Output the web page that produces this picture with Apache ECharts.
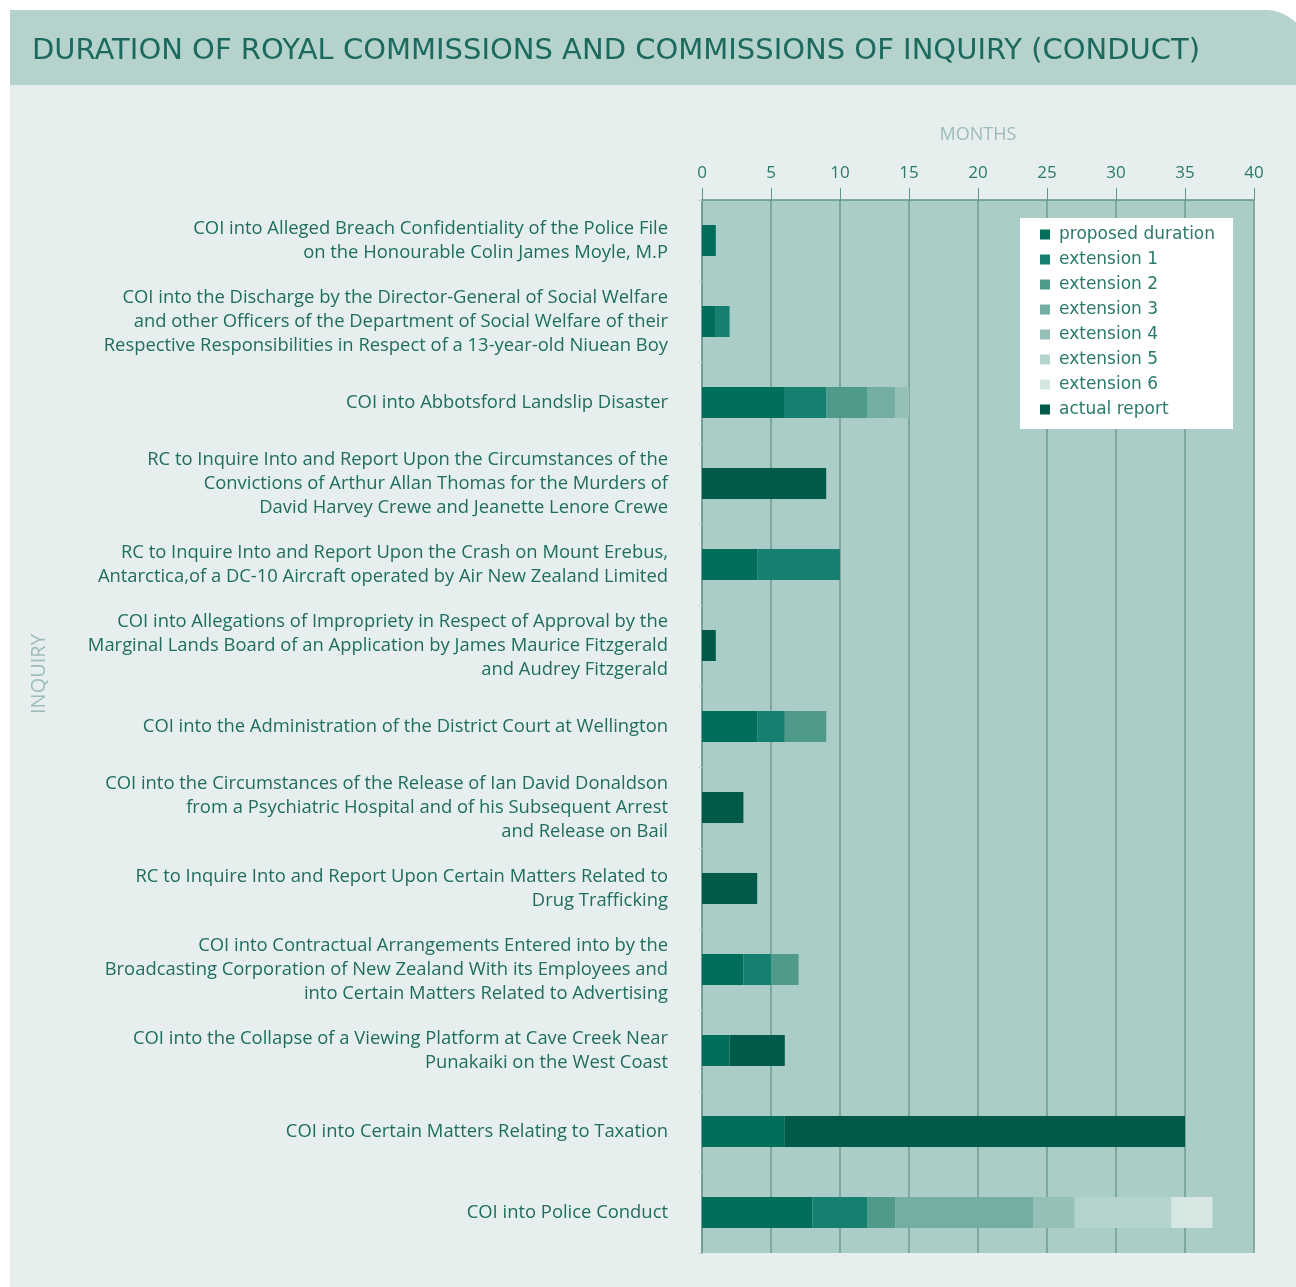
<!DOCTYPE html>
<html>
<head>
<meta charset="utf-8">
<script src="https://cdn.jsdelivr.net/npm/echarts@6/dist/echarts.min.js"></script>
<style>
html,body{margin:0;padding:0;background:#ffffff;}
#chart{width:1296px;height:1287px;}
</style>
</head>
<body>
<div id="chart"></div>
<script>
var titleText = 'DURATION OF ROYAL COMMISSIONS AND COMMISSIONS OF INQUIRY (CONDUCT)';
var yAxisTitle = 'INQUIRY';
var categories = [
  'COI into Alleged Breach Confidentiality of the Police File\non the Honourable Colin James Moyle, M.P',
  'COI into the Discharge by the Director-General of Social Welfare\nand other Officers of the Department of Social Welfare of their\nRespective Responsibilities in Respect of a 13-year-old Niuean Boy',
  'COI into Abbotsford Landslip Disaster',
  'RC to Inquire Into and Report Upon the Circumstances of the\nConvictions of Arthur Allan Thomas for the Murders of\nDavid Harvey Crewe and Jeanette Lenore Crewe',
  'RC to Inquire Into and Report Upon the Crash on Mount Erebus,\nAntarctica,of a DC-10 Aircraft operated by Air New Zealand Limited',
  'COI into Allegations of Impropriety in Respect of Approval by the\nMarginal Lands Board of an Application by James Maurice Fitzgerald\nand Audrey Fitzgerald',
  'COI into the Administration of the District Court at Wellington',
  'COI into the Circumstances of the Release of Ian David Donaldson\nfrom a Psychiatric Hospital and of his Subsequent Arrest\nand Release on Bail',
  'RC to Inquire Into and Report Upon Certain Matters Related to\nDrug Trafficking',
  'COI into Contractual Arrangements Entered into by the\nBroadcasting Corporation of New Zealand With its Employees and\ninto Certain Matters Related to Advertising',
  'COI into the Collapse of a Viewing Platform at Cave Creek Near\nPunakaiki on the West Coast',
  'COI into Certain Matters Relating to Taxation',
  'COI into Police Conduct'
];
var seriesNames = ['proposed duration','extension 1','extension 2','extension 3','extension 4','extension 5','extension 6','actual report'];
var proposed   = [1, 1, 6, 0, 4, 0, 4, 0, 0, 3, 2, 6, 8];
var extension1 = [0, 1, 3, 0, 6, 0, 2, 0, 0, 2, 0, 0, 4];
var extension2 = [0, 0, 3, 0, 0, 0, 3, 0, 0, 2, 0, 0, 2];
var extension3 = [0, 0, 2, 0, 0, 0, 0, 0, 0, 0, 0, 0, 10];
var extension4 = [0, 0, 1, 0, 0, 0, 0, 0, 0, 0, 0, 0, 3];
var extension5 = [0, 0, 0, 0, 0, 0, 0, 0, 0, 0, 0, 0, 7];
var extension6 = [0, 0, 0, 0, 0, 0, 0, 0, 0, 0, 0, 0, 3];
var actualReport = [0, 0, 0, 9, 0, 1, 0, 3, 4, 0, 4, 29, 0];
var xTicks = [0, 40, 5];
var colors = ['#006e5a','#168070','#4f9a8a','#74ada2','#94c0b8','#b6d4ce','#d6e7e3','#005a49'];

var dataSets = [proposed, extension1, extension2, extension3, extension4, extension5, extension6, actualReport];
var series = dataSets.map(function(d, i){
  return {
    name: seriesNames[i],
    type: 'bar',
    stack: 'total',
    barWidth: 31,
    itemStyle: {color: colors[i]},
    data: d.map(function(v){ return v === 0 ? '-' : v; })
  };
});

var chart = echarts.init(document.getElementById('chart'));
chart.setOption({
  animation: false,
  backgroundColor: '#ffffff',
  graphic: [
    {type: 'rect', z: -10, shape: {x: 10, y: 10, width: 1300, height: 1290, r: [0, 45, 0, 0]}, style: {fill: '#e6efed'}},
    {type: 'rect', z: -9, shape: {x: 10, y: 10, width: 1300, height: 75, r: [0, 45, 0, 0]}, style: {fill: '#b6d2cd'}},
    {type: 'text', z: 10, left: 32, top: 37, style: {text: titleText, fill: '#1b6a5d', font: '29px "DejaVu Sans"'}},
    {type: 'text', z: 10, x: 29, y: 714, rotation: Math.PI / 2, style: {text: yAxisTitle, fill: '#9dbcb6', font: '20px "Open Sans"'}}
  ],
  color: colors,
  legend: {
    orient: 'vertical',
    left: 1020,
    top: 218,
    backgroundColor: '#ffffff',
    padding: [8, 18, 11, 20],
    itemWidth: 10,
    itemHeight: 10,
    itemGap: 8,
    icon: 'rect',
    textStyle: {color: '#2a7a6b', fontSize: 17, fontFamily: '"DejaVu Sans"', padding: [0, 0, 0, 4]},
    data: seriesNames
  },
  grid: {
    left: 702, right: 42, top: 200, bottom: 34,
    show: true, backgroundColor: '#abcdc8', borderWidth: 0
  },
  xAxis: {
    type: 'value',
    position: 'top',
    min: xTicks[0], max: xTicks[1], interval: xTicks[2],
    name: 'MONTHS',
    nameLocation: 'middle',
    nameGap: 56,
    nameTextStyle: {color: '#9dbcb6', fontSize: 18, fontFamily: '"Open Sans"'},
    axisLine: {show: true, lineStyle: {color: '#5f958c', width: 1.5}},
    axisTick: {show: true, length: 12, lineStyle: {color: '#5f958c'}},
    axisLabel: {color: '#2a7a6b', fontSize: 17, margin: 18, fontFamily: '"Open Sans"'},
    splitLine: {show: true, lineStyle: {color: '#6c9b93', width: 1.5}}
  },
  yAxis: {
    type: 'category',
    inverse: true,
    data: categories,
    axisLine: {show: true, lineStyle: {color: '#6c9b93', width: 1.5}},
    axisTick: {show: true, length: 4, lineStyle: {color: '#c0d6d2'}},
    axisLabel: {color: '#1f6d60', fontSize: 18.4, lineHeight: 24, margin: 34, align: 'right', fontFamily: '"Open Sans"'}
  },
  series: series
});
</script>
</body>
</html>
